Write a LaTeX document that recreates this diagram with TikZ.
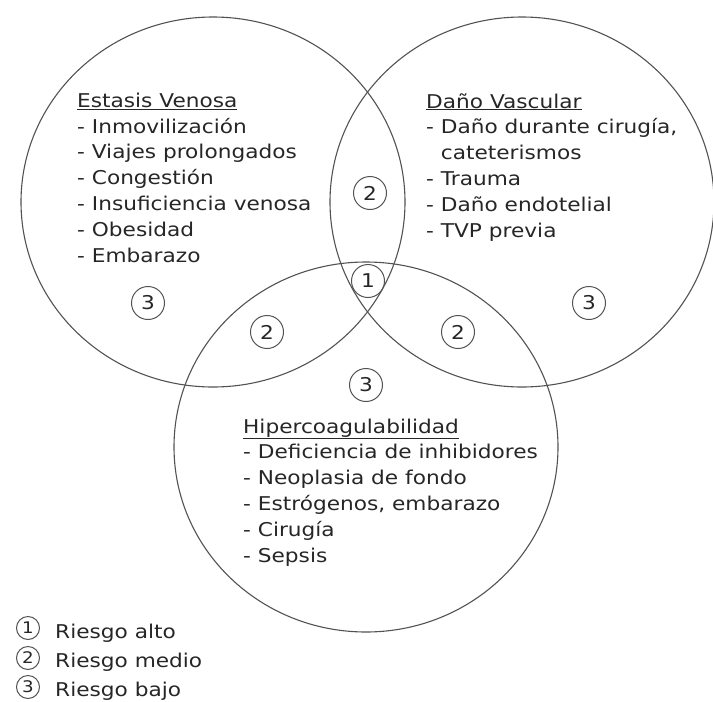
\documentclass[tikz,border=0pt]{standalone}
\usepackage{fontspec}
\setmainfont[FakeStretch=1.14]{DejaVu Sans}
\begin{document}
\begin{tikzpicture}[x=1pt,y=-1pt,
  zona/.style={black!68,line width=1.1pt},
  riesgo/.style={circle,draw=black!68,line width=1pt,inner sep=0pt,minimum size=33pt,
    font=\fontsize{19}{23}\selectfont,text=black!85},
  leyenda/.style={circle,draw=black!68,line width=1pt,inner sep=0pt,minimum size=23pt,
    font=\fontsize{16}{18}\selectfont,text=black!85},
  bloque/.style={anchor=base west,align=left,inner sep=0pt,
    font=\fontsize{19}{25.8}\selectfont,text=black!85},
  rotulo/.style={anchor=base west,inner sep=0pt,font=\fontsize{19}{23}\selectfont,text=black!85}]
  \useasboundingbox (0,0) rectangle (713,702);
  \coordinate (ev) at (213,202);
  \coordinate (dv) at (522,202);
  \coordinate (hc) at (366,447);

  \draw[zona] (ev) ellipse [x radius=192, y radius=185];
  \draw[zona] (dv) ellipse [x radius=192, y radius=185];
  \draw[zona] (hc) ellipse [x radius=192, y radius=185];

  % base = baseline of the last line
  \node[bloque] (tev) at (77,262) {\underline{Estasis Venosa}\\
    - Inmovilización\\ - Viajes prolongados\\ - Congestión\\
    - Insuficiencia venosa\\ - Obesidad\\ - Embarazo};
  \node[bloque] (tdv) at (426,237) {\underline{Daño Vascular}\\
    - Daño durante cirugía,\\ \hphantom{- }cateterismos\\ - Trauma\\
    - Daño endotelial\\ - TVP previa};
  \node[bloque] (thc) at (243,562) {\underline{Hipercoagulabilidad}\\
    - Deficiencia de inhibidores\\ - Neoplasia de fondo\\
    - Estrógenos, embarazo\\ - Cirugía\\ - Sepsis};

  \node[riesgo] (r2a) at (370,193) {2};
  \node[riesgo] (r1) at (368,281) {1};
  \node[riesgo] (r3a) at (148,303) {3};
  \node[riesgo] (r3b) at (589,303) {3};
  \node[riesgo] (r2b) at (267,332) {2};
  \node[riesgo] (r2c) at (458,332) {2};
  \node[riesgo] (r3c) at (366,385) {3};

  \node[leyenda] (l1) at (28,628) {1};
  \node[leyenda] (l2) at (28,658) {2};
  \node[leyenda] (l3) at (28,687) {3};
  \node[rotulo] (t1) at (55,638) {Riesgo alto};
  \node[rotulo] (t2) at (55,667) {Riesgo medio};
  \node[rotulo] (t3) at (55,696) {Riesgo bajo};
\end{tikzpicture}
\end{document}
